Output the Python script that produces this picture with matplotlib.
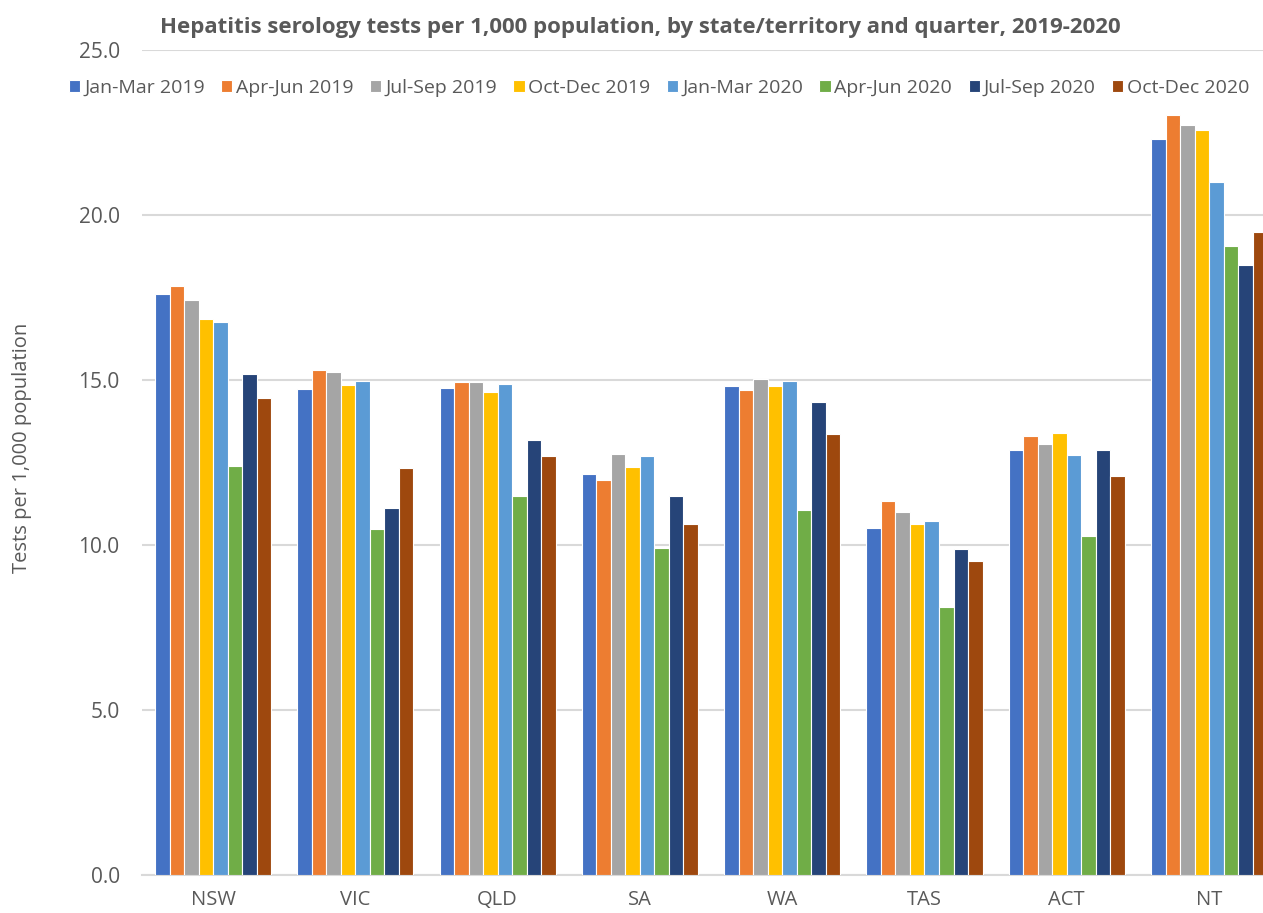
import numpy as np
import matplotlib
matplotlib.use('Agg')
import matplotlib.pyplot as plt

plt.rcParams['font.family'] = ['Open Sans', 'DejaVu Sans']

states = ['NSW', 'VIC', 'QLD', 'SA', 'WA', 'TAS', 'ACT', 'NT']
quarters = ['Jan-Mar 2019', 'Apr-Jun 2019', 'Jul-Sep 2019', 'Oct-Dec 2019',
            'Jan-Mar 2020', 'Apr-Jun 2020', 'Jul-Sep 2020', 'Oct-Dec 2020']

# tests per 1,000 population, one list per quarter (NSW..NT)
jan_mar_2019 = [17.60, 14.72, 14.75, 12.16, 14.83, 10.52, 12.87, 22.30]
apr_jun_2019 = [17.85, 15.30, 14.93, 11.98, 14.69, 11.33, 13.29, 23.02]
jul_sep_2019 = [17.42, 15.23, 14.95, 12.77, 15.03, 10.99, 13.05, 22.72]
oct_dec_2019 = [16.85, 14.85, 14.63, 12.36, 14.83, 10.65, 13.39, 22.57]
jan_mar_2020 = [16.75, 14.98, 14.89, 12.71, 14.97, 10.73, 12.74, 20.99]
apr_jun_2020 = [12.40, 10.48, 11.47, 9.90, 11.06, 8.12, 10.28, 19.07]
jul_sep_2020 = [15.17, 11.11, 13.17, 11.49, 14.32, 9.88, 12.87, 18.47]
oct_dec_2020 = [14.45, 12.33, 12.71, 10.63, 13.37, 9.52, 12.10, 19.47]

series = [jan_mar_2019, apr_jun_2019, jul_sep_2019, oct_dec_2019,
          jan_mar_2020, apr_jun_2020, jul_sep_2020, oct_dec_2020]
colors = ['#4472C4', '#ED7D31', '#A5A5A5', '#FFC000',
          '#5B9BD5', '#70AD47', '#264478', '#9E480E']

text_grey = '#595959'

fig = plt.figure(figsize=(12.63, 9.13), dpi=100)
ax = fig.add_axes([141.9 / 1263, 38 / 913, 1138.3 / 1263, 825 / 913])

x = np.arange(len(states))
bar_w = 0.102
for i, (vals, col, lab) in enumerate(zip(series, colors, quarters)):
    offs = (i - 3.5) * bar_w
    ax.bar(x + offs, vals, bar_w, color=col, edgecolor='white',
           linewidth=0.8, label=lab, zorder=3)

ax.set_xlim(-0.5, len(states) - 0.5)
ax.set_ylim(0, 25)
ax.set_yticks(np.arange(0, 25.1, 5))
ax.set_yticklabels([f'{v:.1f}' for v in np.arange(0, 25.1, 5)])
ax.set_xticks(x)
ax.set_xticklabels(states)
ax.tick_params(axis='both', length=0, labelsize=15, colors=text_grey)
ax.tick_params(axis='y', pad=16)
ax.tick_params(axis='x', labelsize=14.5, pad=11)

ax.grid(axis='y', color='#D9D9D9', linewidth=1.5, zorder=0)
for s in ['top', 'right', 'left']:
    ax.spines[s].set_visible(False)
ax.spines['bottom'].set_color('#D9D9D9')
ax.spines['bottom'].set_linewidth(1.5)

fig.text(22 / 1263, 0.509, 'Tests per 1,000 population', rotation=90,
         ha='center', va='center', fontsize=14.5, color=text_grey)
fig.text(0.507, 1 - 28 / 913,
         'Hepatitis serology tests per 1,000 population, by state/territory and quarter, 2019-2020',
         ha='center', va='center', fontsize=16, fontweight='bold', color=text_grey)

fig.legend(loc='center', bbox_to_anchor=(0.522, 1 - 88 / 913), ncol=8,
           frameon=False, fontsize=14, handlelength=0.57, handleheight=0.57,
           handletextpad=0.2, columnspacing=0.85, labelcolor=text_grey)

fig.savefig('out.png', dpi=100)
